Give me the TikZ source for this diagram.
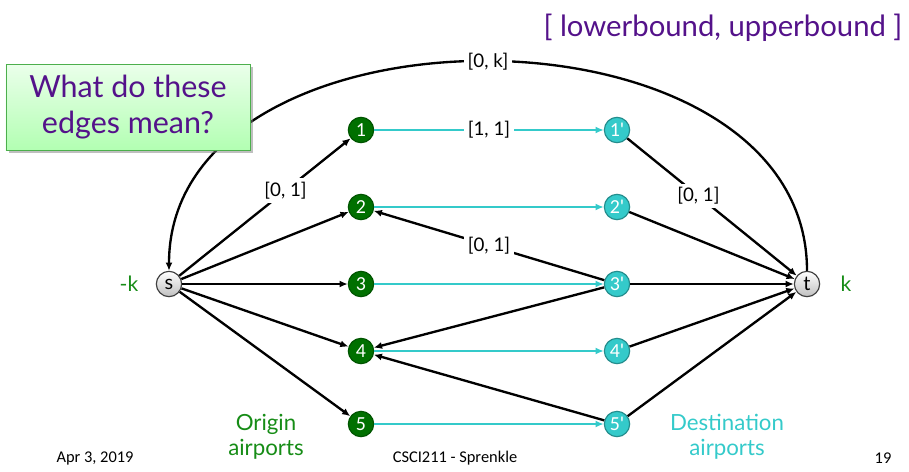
\documentclass[tikz,border=0pt]{standalone}
\usepackage{fontspec}
\setmainfont{Lato}
\newfontfamily\calfont{Carlito}
\usetikzlibrary{shadows, arrows.meta}
\definecolor{airgreen}{RGB}{0,112,0}
\definecolor{aircyan}{RGB}{52,202,202}
\definecolor{boundpurple}{RGB}{84,18,138}
\definecolor{labelgreen}{RGB}{22,140,22}

\begin{document}
\begin{tikzpicture}[x=0.03cm, y=-0.03cm, >={Latex[length=7pt, width=6pt]},
    edge/.style={line width=2pt, ->},
    flight/.style={line width=2.4pt, aircyan, ->},
    bound/.style={fill=white, text=black, inner sep=3pt, font=\fontsize{16}{16}\selectfont},
    origin/.style={circle, draw=airgreen!75!black, fill=airgreen, text=white,
        line width=1pt, minimum size=0.76cm, inner sep=0pt,
        font=\calfont\fontsize{17}{17}\selectfont},
    dest/.style={origin, draw=aircyan!70!black, fill=aircyan},
    term/.style={circle, draw=black!75, top color=white, bottom color=black!25,
        line width=1pt, minimum size=0.76cm, inner sep=0pt,
        font=\fontsize{17}{17}\selectfont}]
    \useasboundingbox (0, 0) rectangle (909, 471);
    \node[term] (S) at (169, 284) {s};
    \node[term] (T) at (807, 284) {t};
    \foreach \i/\y in {1/130, 2/207, 3/284, 4/351, 5/424} {
      \node[origin] (O\i) at (361, \y) {\i};
      \node[dest] (D\i) at (617, \y) {\i'};
    }
    \draw[edge] (T) to[out=90, in=90, looseness=1.12]
         node[bound] {[0, k]} (S);
    \draw[edge] (S) -- node[bound, pos=0.62] {[0, 1]} (O1);
    \foreach \i in {2, 3, 4, 5}
      \draw[edge] (S) -- (O\i);
    \draw[flight] (O1) -- node[bound] {[1, 1]} (D1);
    \foreach \i in {2, 3, 4, 5}
      \draw[flight] (O\i) -- (D\i);
    \draw[edge] (D1) -- node[bound, pos=0.42] {[0, 1]} (T);
    \foreach \i in {2, 3, 4, 5}
      \draw[edge] (D\i) -- (T);
    \draw[edge] (D3) -- node[bound] {[0, 1]} (O2);
    \draw[edge] (D3) -- (O4);
    \draw[edge] (D5) -- (O4);
    \node[draw=green!55!black!70, top color=green!8, bottom color=green!30,
          drop shadow, minimum width=7.32cm, minimum height=2.58cm,
          align=center, text=boundpurple,
          font=\fontsize{26}{31}\selectfont] (Q) at (128, 107)
         {What do these\\edges mean?};
    \node[text=boundpurple, font=\fontsize{25}{25}\selectfont] (B) at (723, 28)
         {[ lowerbound, upperbound ]};
    \node[text=labelgreen, font=\fontsize{18}{18}\selectfont] (MK) at (129, 284) {-k};
    \node[text=labelgreen, font=\fontsize{18}{18}\selectfont] (PK) at (846, 284) {k};
    \node[text=labelgreen, align=center, font=\fontsize{19}{21}\selectfont]
         (OA) at (266, 437) {Origin\\airports};
    \node[text=aircyan, align=center, font=\fontsize{19}{21}\selectfont]
         (DA) at (727, 437) {Destination\\airports};
    \node[font=\calfont\fontsize{14}{14}\selectfont] (F1) at (95, 458) {Apr 3, 2019};
    \node[font=\calfont\fontsize{14}{14}\selectfont] (F2) at (455, 458) {CSCI211 - Sprenkle};
    \node[font=\calfont\fontsize{14}{14}\selectfont] (F3) at (883, 458) {19};
\end{tikzpicture}
\end{document}
